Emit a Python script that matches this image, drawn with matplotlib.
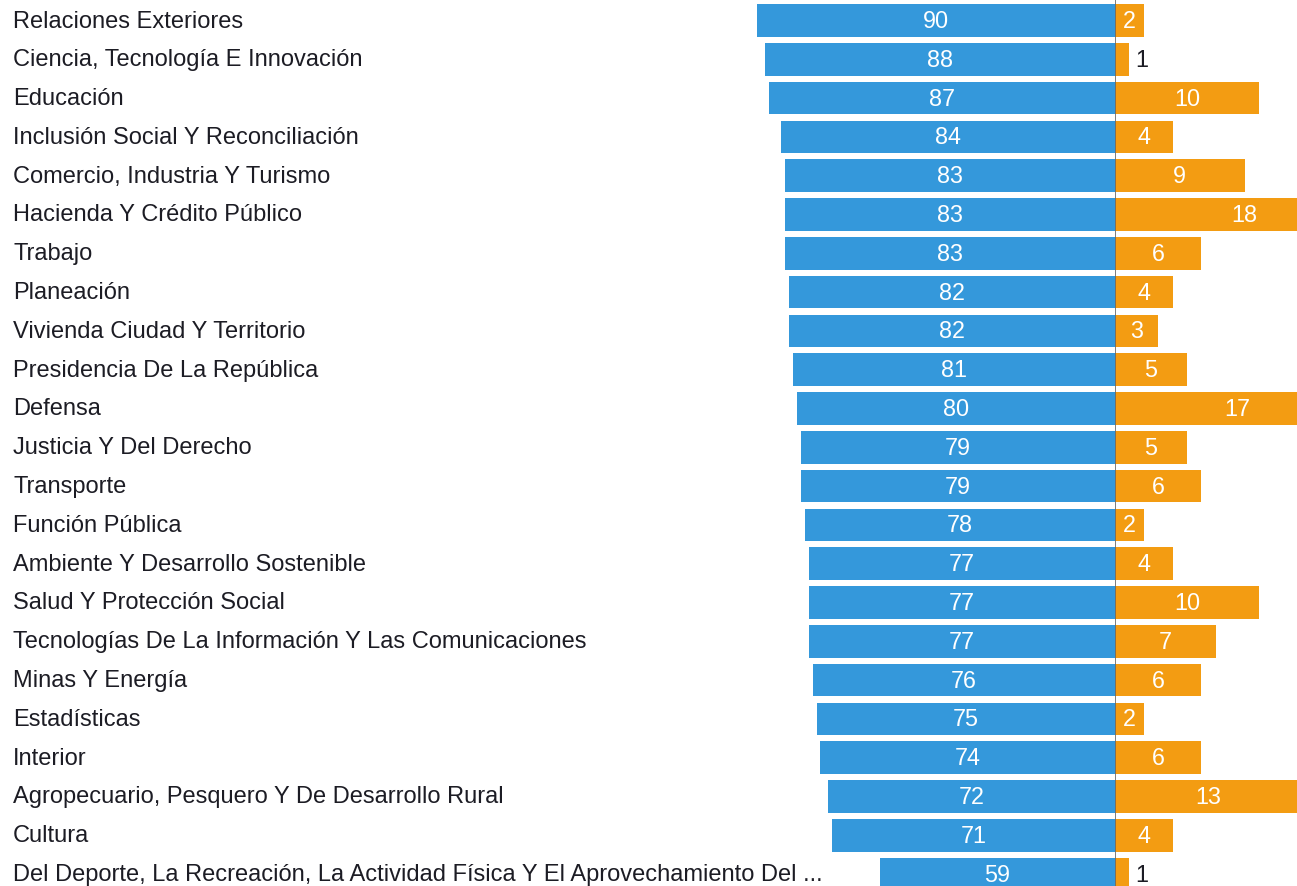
import matplotlib.pyplot as plt
import matplotlib.transforms as mtransforms

# ── Data ──────────────────────────────────────────────────────────────────────
sectors = [
    "Relaciones Exteriores",
    "Ciencia, Tecnología E Innovación",
    "Educación",
    "Inclusión Social Y Reconciliación",
    "Comercio, Industria Y Turismo",
    "Hacienda Y Crédito Público",
    "Trabajo",
    "Planeación",
    "Vivienda Ciudad Y Territorio",
    "Presidencia De La República",
    "Defensa",
    "Justicia Y Del Derecho",
    "Transporte",
    "Función Pública",
    "Ambiente Y Desarrollo Sostenible",
    "Salud Y Protección Social",
    "Tecnologías De La Información Y Las Comunicaciones",
    "Minas Y Energía",
    "Estadísticas",
    "Interior",
    "Agropecuario, Pesquero Y De Desarrollo Rural",
    "Cultura",
    "Del Deporte, La Recreación, La Actividad Física Y El Aprovechamiento Del ...",
]
blue_vals = [90, 88, 87, 84, 83, 83, 83, 82, 82, 81, 80, 79, 79, 78, 77, 77, 77, 76, 75, 74, 72, 71, 59]
orange_vals = [2, 1, 10, 4, 9, 18, 6, 4, 3, 5, 17, 5, 6, 2, 4, 10, 7, 6, 2, 6, 13, 4, 1]

BLUE = '#3498db'
ORANGE = '#f39c12'
FS_LBL = 17
FS_VAL = 16.8

plt.rcParams['font.family'] = ['Liberation Sans', 'DejaVu Sans']

# ── Layout ────────────────────────────────────────────────────────────────────
W, H = 1297, 887
fig = plt.figure(figsize=(W / 100, H / 100), dpi=100)
split = 1115 / W
ax_l = fig.add_axes([0, 0, split, 1])
ax_r = fig.add_axes([split, 0, 1 - split, 1])

ypos = list(range(len(sectors)))
ylim = ((H - 21.5) / 38.8, -21.5 / 38.8)

# left side: blue bars growing leftwards
ax_l.barh(ypos, blue_vals, height=0.84, color=BLUE)
ax_l.set_xlim(1115 / 3.98, 0)
ax_l.set_ylim(*ylim)
for y, v in zip(ypos, blue_vals):
    ax_l.text(v / 2, y, str(v), ha='center', va='center', color='white', fontsize=FS_VAL)

lbl_tr = mtransforms.blended_transform_factory(ax_l.transAxes, ax_l.transData)
for y, name in zip(ypos, sectors):
    ax_l.text(13 / 1115, y, name, transform=lbl_tr, ha='left', va='center',
              color='#1c1c24', fontsize=FS_LBL)

# right side: orange bars, different scale, clipped at edge
ax_r.barh(ypos, orange_vals, height=0.84, color=ORANGE)
ax_r.set_xlim(0, (W - 1115) / 14.4)
ax_r.set_ylim(*ylim)
for y, v in zip(ypos, orange_vals):
    if v <= 1:
        ax_r.annotate(str(v), (v, y), xytext=(4, 0), textcoords='offset points',
                      ha='left', va='center', color='#1c1c24', fontsize=FS_VAL)
    else:
        ax_r.text(v / 2, y, str(v), ha='center', va='center', color='white',
                  fontsize=FS_VAL, clip_on=False)
ax_r.axvline(0, color='#666666', lw=1.2)

for ax in (ax_l, ax_r):
    ax.axis('off')

fig.savefig('out.png', dpi=100)
